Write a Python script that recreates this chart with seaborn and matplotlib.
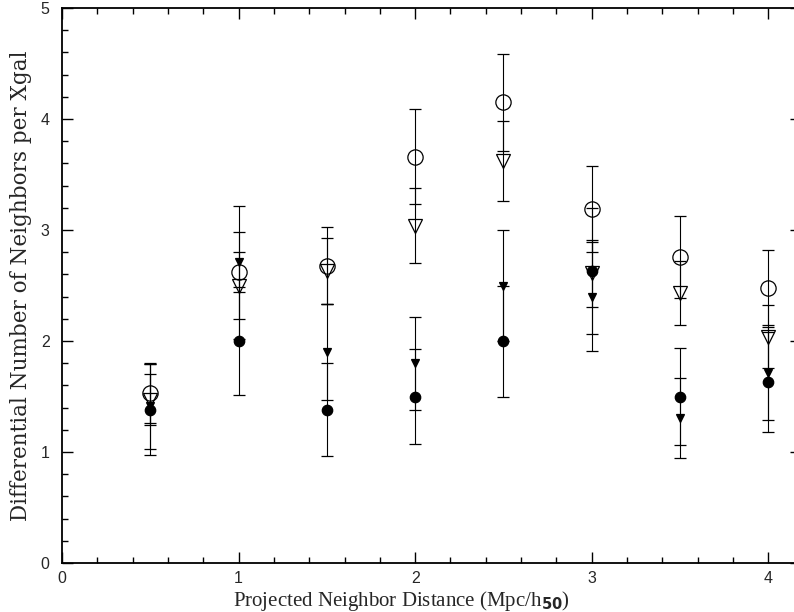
import matplotlib
matplotlib.use("Agg")
import matplotlib.pyplot as plt
import seaborn as sns
from matplotlib.ticker import MultipleLocator

# neighbor distance bins (Mpc/h50)
distance = [0.5, 1.0, 1.5, 2.0, 2.5, 3.0, 3.5, 4.0]

# open circles
open_circ = [1.53, 2.62, 2.68, 3.66, 4.15, 3.19, 2.76, 2.48]
open_circ_err = [0.27, 0.60, 0.35, 0.43, 0.44, 0.39, 0.37, 0.34]

# open triangles
open_tri = [1.47, 2.50, 2.63, 3.04, 3.62, 2.61, 2.43, 2.04]
open_tri_err = [0.23, 0.30, 0.30, 0.34, 0.36, 0.30, 0.29, 0.28]

# filled circles
filled_circ = [1.38, 2.00, 1.38, 1.50, 2.00, 2.63, 1.50, 1.63]
filled_circ_err = [0.41, 0.49, 0.42, 0.43, 0.50, 0.57, 0.44, 0.45]

# filled triangles
filled_tri = [1.41, 2.71, 1.90, 1.80, 2.50, 2.40, 1.31, 1.71]
filled_tri_err = [0.38, 0.27, 0.43, 0.42, 0.50, 0.49, 0.36, 0.42]

sns.set_theme(style="ticks")
plt.rcParams["font.family"] = ["Liberation Sans", "DejaVu Sans"]

fig = plt.figure(figsize=(7.94, 6.12), dpi=100)
ax = fig.add_axes([62 / 794, 49 / 612, 739 / 794, 555 / 612])

series = [
    (open_circ, open_circ_err, "o", 11, "none"),
    (open_tri, open_tri_err, "v", 9.5, "none"),
    (filled_tri, filled_tri_err, "v", 6, "black"),
    (filled_circ, filled_circ_err, "o", 7.5, "black"),
]
for vals, errs, mk, ms, fc in series:
    ax.errorbar(distance, vals, yerr=errs, fmt=mk, ms=ms, mfc=fc, mec="black",
                mew=0.9, ecolor="black", elinewidth=0.8, capsize=4, capthick=0.8,
                color="black")

ax.set_xlim(0, 4.185)
ax.set_ylim(0, 5)
ax.xaxis.set_major_locator(MultipleLocator(1))
ax.xaxis.set_minor_locator(MultipleLocator(0.2))
ax.yaxis.set_major_locator(MultipleLocator(1))
ax.yaxis.set_minor_locator(MultipleLocator(0.2))
ax.tick_params(which="both", direction="in", top=True, right=True, width=1, color="black")
ax.tick_params(which="major", length=8, labelsize=11.5)
ax.tick_params(which="minor", length=4)
ax.tick_params(axis="y", pad=9)
ax.tick_params(axis="x", pad=6)
for sp in ax.spines.values():
    sp.set_linewidth(1.3)
    sp.set_color("black")

ax.set_xlabel(r"Projected Neighbor Distance (Mpc/h$_{\mathbf{50}}$)",
              family=["Liberation Serif", "DejaVu Serif"], fontsize=15)
ax.xaxis.set_label_coords(0.459, -0.047)
ax.set_ylabel("Differential Number of Neighbors per Xgal",
              family=["DejaVu Serif"], fontsize=15.5)
ax.yaxis.set_label_coords(-0.041, 0.5)

fig.savefig("out.png", dpi=100)
